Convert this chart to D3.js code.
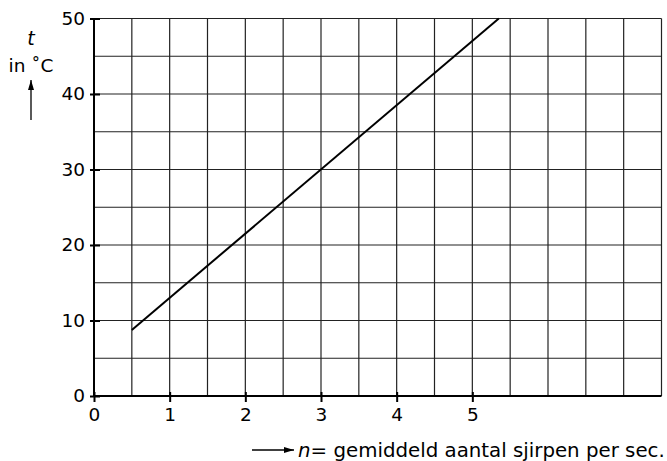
<!DOCTYPE html>
<html>
<head>
<meta charset="utf-8">
<script src="https://cdn.jsdelivr.net/npm/d3@7"></script>
<style>
  body { margin: 0; background: #fff; }
  svg { display: block; font-family: "DejaVu Sans", sans-serif; }
</style>
</head>
<body>
<div id="chart"></div>
<script>
// Data
var xTicks = [0, 1, 2, 3, 4, 5];
var yTicks = [0, 10, 20, 30, 40, 50];
var xGrid = [0.5, 1, 1.5, 2, 2.5, 3, 3.5, 4, 4.5, 5, 5.5, 6, 6.5, 7, 7.5];
var yGrid = [5, 10, 15, 20, 25, 30, 35, 40, 45, 50];
var nValues = [0.5, 5.35];
var tValues = [8.75, 50];

var width = 667, height = 461;
var font = "'DejaVu Sans', sans-serif";

var svg = d3.select("#chart").append("svg")
  .attr("width", width)
  .attr("height", height);

var x = d3.scaleLinear().domain([0, 7.5]).range([94, 661.5]);
var y = d3.scaleLinear().domain([0, 50]).range([396, 18.5]);

// grid
svg.append("g").selectAll("line")
  .data(xGrid)
  .enter().append("line")
  .attr("x1", function(d) { return x(d); })
  .attr("x2", function(d) { return x(d); })
  .attr("y1", y(0))
  .attr("y2", y(50))
  .attr("stroke", "#222")
  .attr("stroke-width", 1.2);

svg.append("g").selectAll("line")
  .data(yGrid)
  .enter().append("line")
  .attr("x1", x(0))
  .attr("x2", x(7.5))
  .attr("y1", function(d) { return y(d); })
  .attr("y2", function(d) { return y(d); })
  .attr("stroke", "#222")
  .attr("stroke-width", 1.2);

// main axes lines
svg.append("line")
  .attr("x1", x(0)).attr("x2", x(0))
  .attr("y1", y(0) + 1).attr("y2", y(50))
  .attr("stroke", "#000").attr("stroke-width", 2);
svg.append("line")
  .attr("x1", x(0) - 1).attr("x2", x(7.5))
  .attr("y1", y(0)).attr("y2", y(0))
  .attr("stroke", "#000").attr("stroke-width", 2);

// axes with ticks crossing the axis line
var yAxis = svg.append("g")
  .attr("transform", "translate(" + (x(0) + 6) + ",0)")
  .call(d3.axisLeft(y).tickValues(yTicks).tickSize(10).tickPadding(5).tickFormat(d3.format("d")));
var xAxis = svg.append("g")
  .attr("transform", "translate(0," + (y(0) - 4) + ")")
  .call(d3.axisBottom(x).tickValues(xTicks).tickSize(10).tickPadding(6).tickFormat(d3.format("d")));

[yAxis, xAxis].forEach(function(g) {
  g.select(".domain").remove();
  g.selectAll(".tick line").attr("stroke", "#000").attr("stroke-width", 2);
  g.selectAll("text")
    .attr("fill", "#000")
    .style("font-size", "18.5px")
    .style("font-family", font);
});

// line
var line = d3.line()
  .x(function(d) { return x(d[0]); })
  .y(function(d) { return y(d[1]); });

svg.append("path")
  .datum(d3.zip(nValues, tValues))
  .attr("d", line)
  .attr("fill", "none")
  .attr("stroke", "#000")
  .attr("stroke-width", 2);

// arrow marker
svg.append("defs").append("marker")
  .attr("id", "arrow")
  .attr("viewBox", "0 0 10 6")
  .attr("refX", 10).attr("refY", 3)
  .attr("markerWidth", 10).attr("markerHeight", 6)
  .attr("markerUnits", "userSpaceOnUse")
  .attr("orient", "auto")
  .append("path")
  .attr("d", "M0,0 L10,3 L0,6 Z")
  .attr("fill", "#000");

// y axis title
svg.append("text")
  .attr("x", 31).attr("y", 45)
  .attr("text-anchor", "middle")
  .style("font-size", "19px")
  .style("font-style", "italic")
  .text("t");
svg.append("text")
  .attr("x", 31).attr("y", 72)
  .attr("text-anchor", "middle")
  .style("font-size", "18.5px")
  .text("in \u02DAC");
svg.append("line")
  .attr("x1", 31).attr("x2", 31)
  .attr("y1", 120).attr("y2", 80)
  .attr("stroke", "#000").attr("stroke-width", 1.3)
  .attr("marker-end", "url(#arrow)");

// x axis title
svg.append("line")
  .attr("x1", 252).attr("x2", 294)
  .attr("y1", 450).attr("y2", 450)
  .attr("stroke", "#000").attr("stroke-width", 1.3)
  .attr("marker-end", "url(#arrow)");
var xt = svg.append("text")
  .attr("x", 298).attr("y", 457)
  .style("font-size", "19.8px");
xt.append("tspan").style("font-style", "italic").text("n");
xt.append("tspan").text("= gemiddeld aantal sjirpen per sec.");
</script>
</body>
</html>
